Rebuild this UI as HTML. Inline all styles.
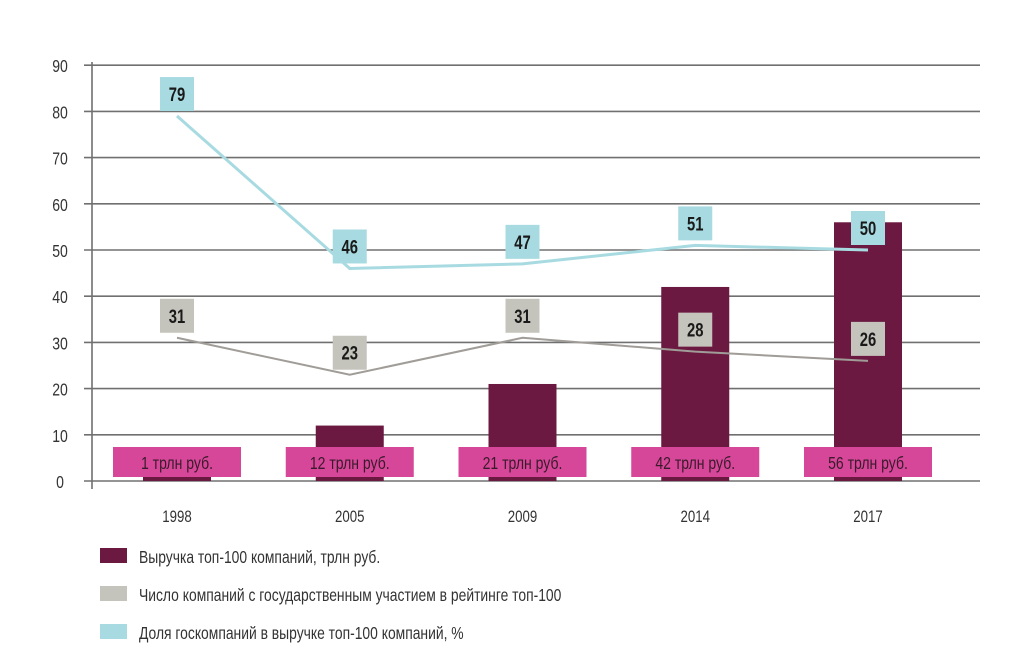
<!DOCTYPE html>
<html><head><meta charset="utf-8"><style>
body{margin:0;background:#fff}
svg text{font-family:"Liberation Sans",sans-serif}
</style></head><body>
<svg width="1009" height="660" id="c">
</svg>
<script>
const years=["1998","2005","2009","2014","2017"];
const revenue=[1,12,21,42,56];
const revenueLabels=["1 трлн руб.","12 трлн руб.","21 трлн руб.","42 трлн руб.","56 трлн руб."];
const stateCount=[31,23,31,28,26];
const stateShare=[79,46,47,51,50];
const yTicks=[0,10,20,30,40,50,60,70,80,90];
const NS="http://www.w3.org/2000/svg";
const svg=document.getElementById('c');
const y=v=>481-v*4.62;
const xs=[177,351,523,696,868];
const x=i=>xs[0]+(xs[4]-xs[0])*i/(years.length-1);
function mk(t,a,p){const e=document.createElementNS(NS,t);for(const k in a)e.setAttribute(k,a[k]);(p||svg).appendChild(e);return e;}
function txt(s,xx,yy,size,w,fill,anchor){const e=mk('text',{x:xx,y:yy,'font-size':size,'font-weight':w,fill:fill,'text-anchor':anchor||'middle',transform:`translate(${xx},0) scale(0.78,1) translate(${-xx},0)`});e.textContent=s;return e;}
yTicks.forEach(v=>{
 const g=mk('line',{x1:84,x2:980,y1:y(v),y2:y(v),stroke:'#707070','stroke-width':1.6});
 
 
 const t=txt(String(v),60,y(v)+7,18,'normal','#333');
 
 
});
const ax=mk('line',{x1:92,x2:92,y1:62,y2:489,stroke:'#707070','stroke-width':1.6});


years.forEach((yr,i)=>{
 const b=mk('rect',{x:x(i)-34,y:y(revenue[i]),width:68,height:y(0)-y(revenue[i]),fill:'#6c1941'});
 
 
 const t=txt(yr,x(i),522,17,'normal','#333');
 
 
});
function line(vals,color,name){
 const p=mk('polyline',{points:vals.map((v,i)=>x(i)+','+y(v)).join(' '),fill:'none',stroke:color,'stroke-width':name==='share'?3:2});
 
 
}
line(stateCount,'#a09c97','state-count');
line(stateShare,'#a8dbe1','share');
function boxes(vals,color,name){
 vals.forEach((v,i)=>{
  const by=y(v)-39;
  const r=mk('rect',{x:x(i)-17,y:by,width:34,height:34,fill:color});
  
  
  const t=txt(String(v),x(i),by+24,19,'bold','#1a1a1a');
  
  
 });
}
boxes(stateCount,'#c5c4bc','state-count');
boxes(stateShare,'#a8dbe1','share');
revenueLabels.forEach((s,i)=>{
 const r=mk('rect',{x:x(i)-64,y:447,width:128,height:30,fill:'#d6479a'});
 
 
 const t=txt(s,x(i),469,18,'normal','#3a1a2a');
 
 
});
const legend=[["Выручка топ-100 компаний, трлн руб.","#6c1941"],["Число компаний с государственным участием в рейтинге топ-100","#c5c4bc"],["Доля госкомпаний в выручке топ-100 компаний, %","#a8dbe1"]];
legend.forEach((l,i)=>{
 const yy=548+i*38;
 const r=mk('rect',{x:100,y:yy,width:27,height:15,fill:l[1]});
 
 
 const t=txt(l[0],139,yy+15,17.8,'normal','#333','start');
 
 
});
</script>
</body></html>
